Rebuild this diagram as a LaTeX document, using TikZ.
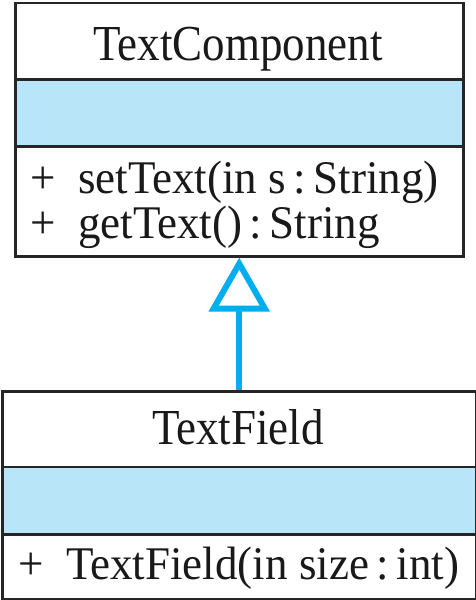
\documentclass[tikz,border=0pt]{standalone}
\usepackage{fontspec}
\setmainfont{Liberation Serif}
\usetikzlibrary{arrows.meta}
\definecolor{attrblue}{HTML}{B9E5F9}
\definecolor{arrowblue}{HTML}{00AEEF}
\newcommand{\tallt}[1]{\scalebox{1}[1.12]{#1}}
\newcommand{\talls}[1]{\scalebox{1}[1.04]{#1}}
\begin{document}
\begin{tikzpicture}[x=1pt,y=-1pt,
  txt/.style={inner sep=0pt, font=\fontsize{45}{54}\selectfont, text=black!90},
  compart/.style={draw=black!85, line width=2.5pt, inner sep=0pt, anchor=north west},
  outerbox/.style={draw=black!85, line width=2.5pt, inner sep=0pt, anchor=north west},
  inherit/.style={draw=arrowblue, line width=6pt,
    -{Triangle[open, length=54pt, width=60pt, line width=6pt]}}]
\useasboundingbox (0,0) rectangle (476,600);
% TextComponent class
\node[compart, fill=white, minimum width=448pt, minimum height=76.5pt] (tctitle) at (14,1.5) {};
\node[compart, fill=attrblue, minimum width=448pt, minimum height=67pt] (tcattr) at (14,78) {};
\node[compart, fill=white, minimum width=448pt, minimum height=110pt] (tcops) at (14,145) {};
\node[outerbox, minimum width=448pt, minimum height=253.5pt] (tc) at (14,1.5) {};
\node[txt, anchor=base] (tcname) at (238,60) {\tallt{TextComponent}};
\node[txt, anchor=base west] (tcop1) at (30,193) {\talls{+\ \ setText(in s\,:\,String)}};
\node[txt, anchor=base west] (tcop2) at (30,238) {\talls{+\ \ getText()\,:\,String}};
% TextField class
\node[compart, fill=white, minimum width=474pt, minimum height=75.5pt] (tftitle) at (1,390) {};
\node[compart, fill=attrblue, minimum width=474pt, minimum height=67.5pt] (tfattr) at (1,465.5) {};
\node[compart, fill=white, minimum width=474pt, minimum height=65pt] (tfops) at (1,533) {};
\node[outerbox, minimum width=474pt, minimum height=208pt] (tf) at (1,390) {};
\node[txt, anchor=base] (tfname) at (238,444) {\tallt{TextField}};
\node[txt, anchor=base west] (tfop1) at (18,579) {\talls{+\ \ TextField(in size\,:\,int)}};
% generalization
\draw[inherit] (tf.north -| tc.south) -- (tc.south);
\end{tikzpicture}
\end{document}
